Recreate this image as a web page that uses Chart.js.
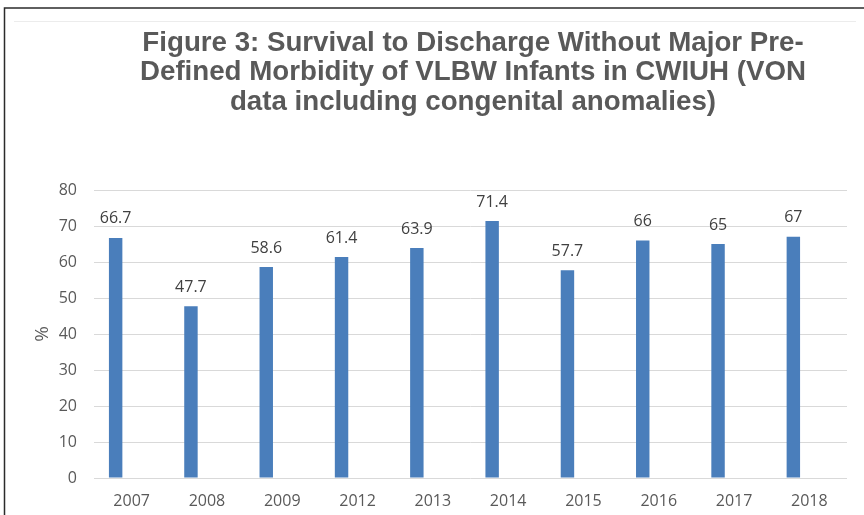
<!DOCTYPE html>
<html>
<head>
<meta charset="utf-8">
<script src="https://cdn.jsdelivr.net/npm/chart.js@4/dist/chart.umd.min.js"></script>
<style>
  html, body { margin: 0; padding: 0; background: #ffffff; }
  #wrap { position: relative; width: 864px; height: 515px; }
</style>
</head>
<body>
<div id="wrap"><canvas id="chart" width="864" height="515"></canvas></div>
<script>
// Chart content
const titleLines = [
  'Figure 3: Survival to Discharge Without Major Pre-',
  'Defined Morbidity of VLBW Infants in CWIUH (VON',
  'data including congenital anomalies)'
];
const years = ['2007', '2008', '2009', '2012', '2013', '2014', '2015', '2016', '2017', '2018'];
const survivalPct = [66.7, 47.7, 58.6, 61.4, 63.9, 71.4, 57.7, 66, 65, 67];
const secondSeries = [null, null, null, null, null, null, null, null, null, null];
const yTicks = [0, 10, 20, 30, 40, 50, 60, 70, 80];
const yAxisLabel = '%';

const TEXT = '#595959';
const BAR = '#4a7ebb';
const FONT = '"Open Sans", sans-serif';

// Frame lines on the left and top of the chart
const framePlugin = {
  id: 'frame',
  beforeDraw(chart) {
    const ctx = chart.ctx;
    ctx.save();
    ctx.fillStyle = '#ffffff';
    ctx.fillRect(0, 0, chart.width, chart.height);
    ctx.strokeStyle = '#ececec';
    ctx.lineWidth = 1;
    ctx.beginPath();
    ctx.moveTo(14, 21.5);
    ctx.lineTo(856, 21.5);
    ctx.stroke();
    ctx.strokeStyle = '#2b2b2b';
    ctx.lineWidth = 1.5;
    ctx.beginPath();
    ctx.moveTo(4.5, chart.height);
    ctx.lineTo(4.5, 8);
    ctx.lineTo(chart.width, 8);
    ctx.stroke();
    ctx.restore();
  }
};

// Three-line bold heading
const headingPlugin = {
  id: 'heading',
  afterDraw(chart) {
    const ctx = chart.ctx;
    ctx.save();
    ctx.font = 'bold 27.7px "Liberation Sans", Arial, sans-serif';
    ctx.fillStyle = TEXT;
    ctx.textAlign = 'center';
    ctx.textBaseline = 'alphabetic';
    const baselines = [50.5, 80, 109.5];
    titleLines.forEach((line, i) => ctx.fillText(line, 473, baselines[i]));
    ctx.restore();
  }
};

// Value labels above each bar
const valueLabelPlugin = {
  id: 'valueLabels',
  afterDatasetsDraw(chart) {
    const ctx = chart.ctx;
    const meta = chart.getDatasetMeta(0);
    ctx.save();
    ctx.font = '16px ' + FONT;
    ctx.fillStyle = '#404040';
    ctx.textAlign = 'center';
    ctx.textBaseline = 'middle';
    meta.data.forEach((bar, i) => {
      const v = survivalPct[i];
      if (v == null) return;
      ctx.fillText(String(v), bar.x, bar.y - 19);
    });
    ctx.restore();
  }
};

new Chart(document.getElementById('chart'), {
  type: 'bar',
  data: {
    labels: years,
    datasets: [
      {
        label: 'Survival without major morbidity',
        data: survivalPct,
        backgroundColor: BAR,
        borderWidth: 0,
        categoryPercentage: 0.85,
        barPercentage: 0.42
      },
      {
        label: 'Series 2',
        data: secondSeries,
        backgroundColor: BAR,
        borderWidth: 0,
        categoryPercentage: 0.85,
        barPercentage: 0.42
      }
    ]
  },
  options: {
    responsive: false,
    animation: false,
    devicePixelRatio: 1,
    layout: { padding: { top: 190, right: 17, bottom: 4, left: 0 } },
    plugins: {
      legend: { display: false },
      title: { display: false },
      tooltip: { enabled: false }
    },
    scales: {
      x: {
        grid: { display: false, drawTicks: false },
        border: { display: false },
        ticks: {
          padding: 14,
          color: TEXT,
          font: { family: FONT, size: 16 },
          maxRotation: 0,
          autoSkip: false
        },
        afterFit(scale) { scale.height = 33; }
      },
      y: {
        min: 0,
        max: 80,
        afterBuildTicks(scale) { scale.ticks = yTicks.map(v => ({ value: v })); },
        grid: { color: '#d9d9d9', lineWidth: 1, drawTicks: false },
        border: { display: false },
        ticks: {
          padding: 17,
          color: TEXT,
          font: { family: FONT, size: 16 }
        },
        title: {
          display: true,
          text: yAxisLabel,
          color: TEXT,
          font: { family: FONT, size: 19 },
          padding: { top: 31, bottom: 0 }
        },
        afterFit(scale) { scale.width = 94; }
      }
    }
  },
  plugins: [framePlugin, headingPlugin, valueLabelPlugin]
});
</script>
</body>
</html>
